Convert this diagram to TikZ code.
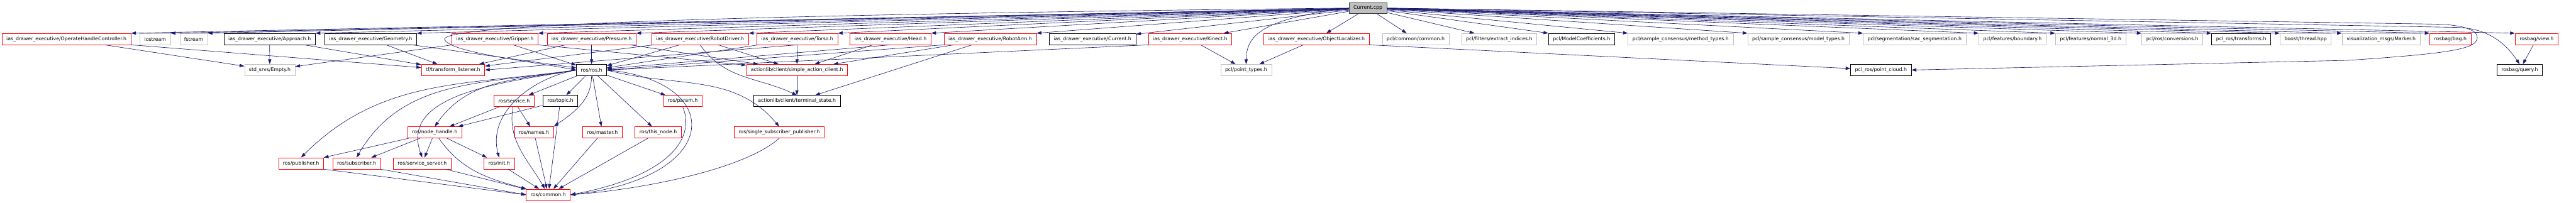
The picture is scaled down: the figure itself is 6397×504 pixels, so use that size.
\documentclass[tikz,border=0pt]{standalone}
\usepackage{fontspec}
\setmainfont{DejaVu Sans}
\usetikzlibrary{arrows.meta}
\definecolor{edgeblue}{HTML}{191970}
\definecolor{boxred}{HTML}{FF0000}
\definecolor{boxgray}{HTML}{BFBFBF}
\definecolor{boxdark}{HTML}{404040}
\tikzset{
  hdr/.style={draw, line width=1pt, inner xsep=11pt, inner ysep=0pt, minimum height=28pt, font=\fontsize{12.2}{14}\selectfont},
  redhdr/.style={hdr, draw=boxred},
  grayhdr/.style={hdr, draw=boxgray},
  blackhdr/.style={hdr, draw=black},
  dep/.style={draw=edgeblue, line width=1pt, -{Triangle[length=12pt,width=8pt]}},
}
\begin{document}
\begin{tikzpicture}[x=1pt, y=-1pt]
\useasboundingbox (0,0) rectangle (6397,504);
\node[hdr, fill=boxgray, draw=boxdark] (cpp) at (3397,20) {Current.cpp};

\node[redhdr] (ohc) at (165,97) {ias\_drawer\_executive/OperateHandleController.h};
\node[grayhdr] (iostream) at (385.5,97) {iostream};
\node[grayhdr] (fstream) at (481,97) {fstream};
\node[blackhdr] (approach) at (669.5,97) {ias\_drawer\_executive/Approach.h};
\node[blackhdr] (geometry) at (920.5,97) {ias\_drawer\_executive/Geometry.h};
\node[redhdr] (gripper) at (1229,97) {ias\_drawer\_executive/Gripper.h};
\node[redhdr] (pressure) at (1469,97) {ias\_drawer\_executive/Pressure.h};
\node[redhdr] (robotdriver) at (1738.5,97) {ias\_drawer\_executive/RobotDriver.h};
\node[redhdr] (torso) at (1980,97) {ias\_drawer\_executive/Torso.h};
\node[redhdr] (head) at (2211.5,97) {ias\_drawer\_executive/Head.h};
\node[redhdr] (robotarm) at (2459,97) {ias\_drawer\_executive/RobotArm.h};
\node[blackhdr] (currenth) at (2713,97) {ias\_drawer\_executive/Current.h};
\node[redhdr] (kinect) at (2955.5,97) {ias\_drawer\_executive/Kinect.h};
\node[redhdr] (objloc) at (3269.5,97) {ias\_drawer\_executive/ObjectLocalizer.h};
\node[grayhdr] (pclcommon) at (3515.5,97) {pcl/common/common.h};
\node[grayhdr] (extract) at (3723,97) {pcl/filters/extract\_indices.h};
\node[blackhdr] (modelcoef) at (3927.5,97) {pcl/ModelCoefficients.h};
\node[grayhdr] (methodtypes) at (4173.5,97) {pcl/sample\_consensus/method\_types.h};
\node[grayhdr] (modeltypes) at (4466,97) {pcl/sample\_consensus/model\_types.h};
\node[grayhdr] (sacseg) at (4754.5,97) {pcl/segmentation/sac\_segmentation.h};
\node[grayhdr] (boundary) at (4997.5,97) {pcl/features/boundary.h};
\node[grayhdr] (normal) at (5191.5,97) {pcl/features/normal\_3d.h};
\node[grayhdr] (conversions) at (5394.5,97) {pcl/ros/conversions.h};
\node[blackhdr] (transforms) at (5565.5,97) {pcl\_ros/transforms.h};
\node[grayhdr] (thread) at (5725.5,97) {boost/thread.hpp};
\node[grayhdr] (marker) at (5913,97) {visualization\_msgs/Marker.h};
\node[redhdr] (bag) at (6085,97) {rosbag/bag.h};
\node[redhdr] (view) at (6299,97) {rosbag/view.h};

\node[grayhdr] (empty) at (670,174) {std\_srvs/Empty.h};
\node[redhdr] (tf) at (1125,174) {tf/transform\_listener.h};
\node[blackhdr] (ros) at (1469,174) {ros/ros.h};
\node[redhdr] (sac) at (1979,174) {actionlib/client/simple\_action\_client.h};
\node[grayhdr] (pointtypes) at (3094.5,174) {pcl/point\_types.h};
\node[blackhdr] (pointcloud) at (4671,174) {pcl\_ros/point\_cloud.h};
\node[blackhdr] (query) at (6257,174) {rosbag/query.h};

\node[redhdr] (service) at (1276.5,251) {ros/service.h};
\node[blackhdr] (topic) at (1391.5,251) {ros/topic.h};
\node[redhdr] (param) at (1695.5,251) {ros/param.h};
\node[blackhdr] (term) at (1979,251) {actionlib/client/terminal\_state.h};

\node[redhdr] (nodehandle) at (1079.5,329) {ros/node\_handle.h};
\node[redhdr] (names) at (1326,329) {ros/names.h};
\node[redhdr] (master) at (1496,329) {ros/master.h};
\node[redhdr] (thisnode) at (1634.5,329) {ros/this\_node.h};
\node[redhdr] (ssp) at (1935,329) {ros/single\_subscriber\_publisher.h};

\node[redhdr] (publisher) at (747.5,406) {ros/publisher.h};
\node[redhdr] (subscriber) at (885.5,406) {ros/subscriber.h};
\node[redhdr] (serviceserver) at (1048.5,406) {ros/service\_server.h};
\node[redhdr] (init) at (1239.5,406) {ros/init.h};

\node[redhdr] (rcommon) at (1361.5,484) {ros/common.h};

\draw[dep] (cpp) -- (ohc.north east);
\draw[dep] (cpp) -- (iostream.north east);
\draw[dep] (cpp) -- (fstream.north east);
\draw[dep] (cpp) -- (approach.north east);
\draw[dep] (cpp) -- (geometry.north east);
\draw[dep] (cpp) -- (gripper.north east);
\draw[dep] (cpp) -- (pressure.north east);
\draw[dep] (cpp) -- (robotdriver.north east);
\draw[dep] (cpp) -- (torso.north east);
\draw[dep] (cpp) -- (head.north east);
\draw[dep] (cpp) -- (robotarm.north east);
\draw[dep] (cpp) -- (currenth);
\draw[dep] (cpp) -- (kinect);
\draw[dep] (cpp) -- (objloc);
\draw[dep] (cpp) -- (pclcommon);
\draw[dep] (cpp) -- (extract);
\draw[dep] (cpp) -- (modelcoef.north west);
\draw[dep] (cpp) -- (methodtypes.north west);
\draw[dep] (cpp) -- (modeltypes.north west);
\draw[dep] (cpp) -- (sacseg.north west);
\draw[dep] (cpp) -- (boundary.north west);
\draw[dep] (cpp) -- (normal.north west);
\draw[dep] (cpp) -- (conversions.north west);
\draw[dep] (cpp) -- (transforms.north west);
\draw[dep] (cpp) -- (thread.north west);
\draw[dep] (cpp) -- (marker.north west);
\draw[dep] (cpp) -- (bag.north west);
\draw[dep] (cpp) -- (view.north west);
\draw[dep] (cpp.west) .. controls (1500,40) and (1080,70) .. (1105,100) .. controls (1125,130) and (1300,150) .. (ros.west);
\draw[dep] (cpp.west) .. controls (3150,45) and (3095,80) .. (pointtypes.north);
\draw[dep] (cpp.east) -- (6100,68) .. controls (6190,70) and (6230,120) .. (query.north);
\draw[dep] (cpp.east) -- (6050,60) .. controls (6130,62) and (6160,80) .. (6150,100) .. controls (6140,125) and (6050,135) .. (5830,150) -- (pointcloud.east);

\draw[dep] (ohc) -- (empty);
\draw[dep] (ohc.south east) -- (tf);
\draw[dep] (approach) -- (empty);
\draw[dep] (approach) -- (tf);
\draw[dep] (geometry) -- (tf);
\draw[dep] (geometry) -- (ros);
\draw[dep] (gripper) -- (empty);
\draw[dep] (gripper) -- (ros);
\draw[dep] (gripper.south east) -- (sac);
\draw[dep] (pressure) -- (ros);
\draw[dep] (pressure) -- (tf);
\draw[dep] (pressure) -- (sac);
\draw[dep] (robotdriver) -- (ros);
\draw[dep] (robotdriver) -- (tf);
\draw[dep] (robotdriver) -- (sac);
\draw[dep] (robotdriver.south) to[out=-55, in=155] (term.north);
\draw[dep] (torso) -- (sac);
\draw[dep] (torso) -- (ros);
\draw[dep] (torso.south) -- (tf.east);
\draw[dep] (head) -- (sac);
\draw[dep] (head.south) -- (ros);
\draw[dep] (robotarm.south west) -- (ros.east);
\draw[dep] (robotarm) -- (sac);
\draw[dep] (robotarm) -- (term);
\draw[dep] (kinect.south west) -- (ros.east);
\draw[dep] (kinect) -- (pointtypes);
\draw[dep] (objloc) -- (pointtypes);
\draw[dep] (objloc.south east) -- (pointcloud);
\draw[dep] (view) -- (query);
\draw[dep] (sac) -- (term);

\draw[dep] (ros) -- (service);
\draw[dep] (ros) -- (topic);
\draw[dep] (ros.south) to[out=-90, in=35] (names.north east);
\draw[dep] (ros) -- (master);
\draw[dep] (ros) -- (thisnode);
\draw[dep] (ros) -- (param);
\draw[dep] (ros.west) to[out=190, in=55] (nodehandle.north);
\draw[dep] (ros.west) to[out=190, in=105] (init.north);
\draw[dep] (ros.west) to[out=188, in=45] (publisher.north);
\draw[dep] (ros.west) to[out=189, in=60] (subscriber.north);
\draw[dep] (ros.west) to[out=190, in=110] (serviceserver.north);
\draw[dep] (ros.east) to[out=-15, in=130] (ssp.north);
\draw[dep] (ros.east) .. controls (1800,200) and (1800,440) .. (rcommon.east);
\draw[dep] (service) -- (nodehandle);
\draw[dep] (service) -- (names);
\draw[dep] (service) to[out=-100, in=120] (rcommon);
\draw[dep] (topic) -- (nodehandle);
\draw[dep] (topic) -- (rcommon);
\draw[dep] (param.south) .. controls (1730,350) and (1650,440) .. (rcommon.east);
\draw[dep] (nodehandle) -- (publisher.north east);
\draw[dep] (nodehandle) -- (subscriber);
\draw[dep] (nodehandle) -- (serviceserver);
\draw[dep] (nodehandle) -- (init);
\draw[dep] (nodehandle) to[out=-55, in=165] (rcommon);
\draw[dep] (names) -- (rcommon);
\draw[dep] (master) -- (rcommon);
\draw[dep] (thisnode) -- (rcommon);
\draw[dep] (ssp.south) .. controls (1850,420) and (1600,470) .. (rcommon.east);
\draw[dep] (publisher.south east) -- (rcommon.west);
\draw[dep] (subscriber.south east) -- (rcommon.west);
\draw[dep] (serviceserver) -- (rcommon);
\draw[dep] (init) -- (rcommon);
\end{tikzpicture}
\end{document}
